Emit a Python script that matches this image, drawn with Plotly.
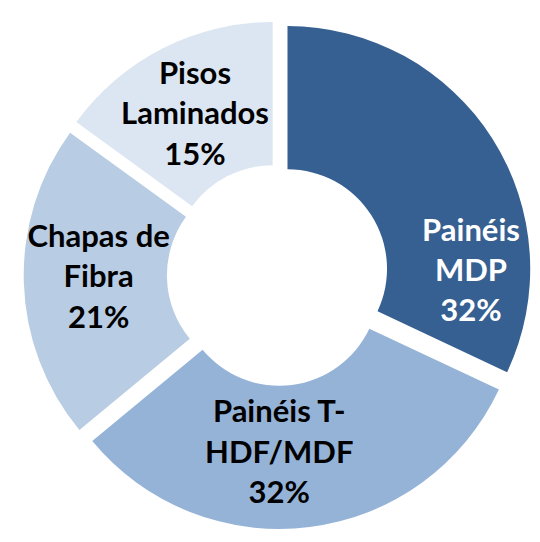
import plotly.graph_objects as go

labels = ["Painéis MDP", "Painéis T-HDF/MDF", "Chapas de Fibra", "Pisos Laminados"]
text_labels = ["Painéis<br>MDP", "Painéis T-<br>HDF/MDF", "Chapas de<br>Fibra", "Pisos<br>Laminados"]
values = [32, 32, 21, 15]
colors = ["#366092", "#95B3D7", "#B8CCE4", "#DCE6F2"]
text_colors = ["#FFFFFF", "#000000", "#000000", "#000000"]

pull = [0.047] * 4
hole = 0.41
dom_x = [0.03, 1.0]
dom_y = [0.0, 0.985]

fig = go.Figure(go.Pie(
    labels=labels,
    values=values,
    text=text_labels,
    texttemplate="%{text}<br>%{value}%",
    textinfo="text",
    textposition="inside",
    insidetextorientation="horizontal",
    sort=False,
    direction="clockwise",
    rotation=0,
    hole=hole,
    pull=pull,
    marker=dict(colors=colors, line=dict(width=0)),
    textfont=dict(family="Lato", size=28, color=text_colors, weight="bold"),
    domain=dict(x=dom_x, y=dom_y),
    showlegend=False,
))
fig.update_layout(
    margin=dict(l=0, r=0, t=0, b=0),
    paper_bgcolor="white",
    plot_bgcolor="white",
    uniformtext=dict(minsize=31, mode="show"),
)
fig.write_html("out.html")
